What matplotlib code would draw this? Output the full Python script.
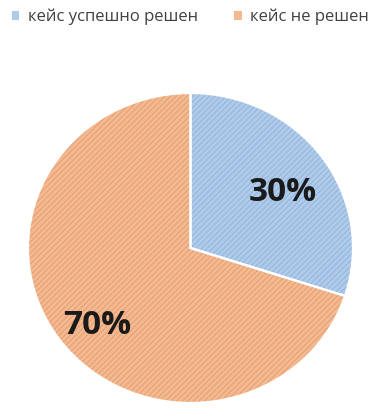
import matplotlib
matplotlib.use("Agg")
import matplotlib.pyplot as plt
from matplotlib.patches import Patch

labels = ["кейс успешно решен", "кейс не решен"]
values = [30, 70]
pct_labels = ["30%", "70%"]
face_colors = ["#aecbeb", "#f6b88e"]
hatch_colors = ["#8fb0d6", "#dc9c72"]

plt.rcParams['font.family'] = ['Open Sans', 'DejaVu Sans']
plt.rcParams['hatch.linewidth'] = 0.6

W, H = 377, 416
fig = plt.figure(figsize=(W / 100, H / 100), dpi=100)
ax = fig.add_axes([28 / W, (416 - 403) / H, 325 / W, 310 / H])

wedges, _ = ax.pie(values, colors=face_colors, startangle=90, counterclock=False,
                   radius=1, wedgeprops=dict(linewidth=0, hatch="//////"))
for w, hc in zip(wedges, hatch_colors):
    w.set_edgecolor(hc)
ax.pie(values, colors=["none", "none"], startangle=90, counterclock=False,
       radius=1, wedgeprops=dict(linewidth=1.6, edgecolor="white", fill=False))
ax.set_aspect('auto')
ax.set_xlim(-1, 1)
ax.set_ylim(-1, 1)
ax.axis('off')

ax.text(0.565, 0.36, pct_labels[0], ha='center', va='center', fontsize=24,
        fontweight='bold', color='#1a1a1a')
ax.text(-0.575, -0.50, pct_labels[1], ha='center', va='center', fontsize=24,
        fontweight='bold', color='#1a1a1a')

handles = [Patch(facecolor=c, edgecolor='none') for c in face_colors]
fig.legend(handles, labels, loc='center', bbox_to_anchor=(0.505, 1 - 17 / H),
           ncol=2, frameon=False, fontsize=12, handlelength=0.45, handleheight=0.45,
           handletextpad=0.5, columnspacing=2.2, labelcolor='#404040')

fig.savefig("out.png", dpi=100)
